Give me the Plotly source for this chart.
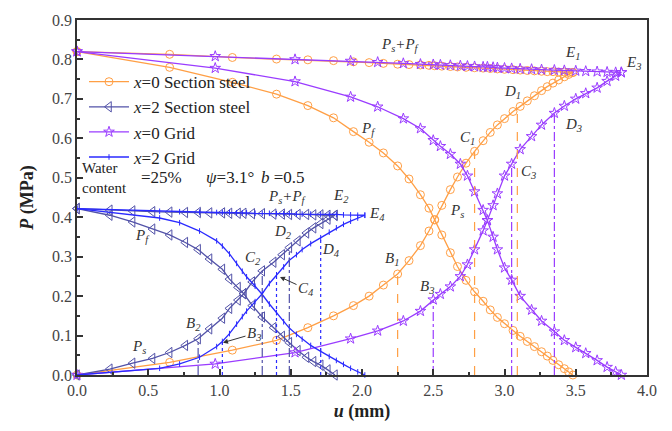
import plotly.graph_objects as go

# ---------------- data ----------------
# x=0 Section steel
u_s0 = [0, 0.65, 1.09, 1.40, 1.62, 1.80, 1.94, 2.05, 2.15, 2.25, 2.33, 2.41, 2.47, 2.51, 2.56, 2.62, 2.67,
        2.73, 2.79, 2.85, 2.90, 2.95, 3.00, 3.06, 3.11, 3.16, 3.21, 3.26, 3.30, 3.34, 3.38, 3.42, 3.45, 3.48]
ps_s0 = [0, 0.032, 0.063, 0.088, 0.120, 0.150, 0.176, 0.200, 0.228, 0.256, 0.290, 0.328, 0.365, 0.394, 0.430,
         0.470, 0.502, 0.537, 0.567, 0.594, 0.615, 0.634, 0.650, 0.668, 0.681, 0.695, 0.708, 0.721, 0.731, 0.740,
         0.748, 0.756, 0.762, 0.767]
pf_s0 = [0.82, 0.780, 0.742, 0.712, 0.683, 0.652, 0.617, 0.590, 0.563, 0.530, 0.497, 0.457, 0.423, 0.393, 0.355,
         0.310, 0.275, 0.240, 0.211, 0.187, 0.165, 0.146, 0.130, 0.113, 0.098, 0.085, 0.072, 0.059, 0.048, 0.037,
         0.026, 0.016, 0.008, 0]
sum_s0 = [0.82, 0.813, 0.805, 0.801, 0.799, 0.797, 0.794, 0.792, 0.790, 0.788, 0.787, 0.786, 0.785, 0.784, 0.783,
          0.782, 0.781, 0.780, 0.779, 0.778, 0.777, 0.776, 0.775, 0.774, 0.773, 0.772, 0.771, 0.770, 0.769, 0.769,
          0.768, 0.768, 0.767, 0.767]

# x=2 Section steel
u_s2 = [0, 0.23, 0.39, 0.53, 0.65, 0.76, 0.85, 0.93, 1.02, 1.07, 1.13, 1.17, 1.23, 1.30, 1.38, 1.44, 1.49, 1.55,
        1.61, 1.66, 1.71, 1.76, 1.81]
ps_s2 = [0, 0.015, 0.030, 0.042, 0.057, 0.075, 0.092, 0.117, 0.144, 0.169, 0.190, 0.206, 0.236, 0.264, 0.286,
         0.305, 0.323, 0.340, 0.360, 0.373, 0.384, 0.395, 0.405]
pf_s2 = [0.422, 0.405, 0.388, 0.370, 0.355, 0.336, 0.318, 0.294, 0.268, 0.243, 0.222, 0.206, 0.176, 0.147, 0.120,
         0.098, 0.082, 0.062, 0.045, 0.034, 0.025, 0.013, 0]
sum_s2 = [0.422, 0.418, 0.416, 0.414, 0.413, 0.412, 0.412, 0.411, 0.411, 0.410, 0.410, 0.410, 0.409, 0.409, 0.408,
          0.408, 0.407, 0.407, 0.407, 0.406, 0.406, 0.405, 0.405]

# x=0 Grid
u_g0 = [0, 0.97, 1.53, 1.92, 2.11, 2.29, 2.41, 2.50, 2.55, 2.62, 2.69, 2.74, 2.79, 2.85, 2.88, 2.92, 2.95, 3.00,
        3.05, 3.11, 3.19, 3.26, 3.35, 3.42, 3.50, 3.57, 3.65, 3.72, 3.78, 3.82]
ps_g0 = [0, 0.028, 0.057, 0.092, 0.112, 0.137, 0.162, 0.191, 0.205, 0.224, 0.250, 0.280, 0.318, 0.366, 0.392,
         0.430, 0.460, 0.505, 0.535, 0.572, 0.605, 0.634, 0.664, 0.682, 0.700, 0.714, 0.728, 0.745, 0.758, 0.767]
pf_g0 = [0.82, 0.778, 0.744, 0.705, 0.680, 0.650, 0.625, 0.595, 0.580, 0.560, 0.535, 0.505, 0.465, 0.418, 0.392,
         0.350, 0.318, 0.272, 0.241, 0.200, 0.165, 0.137, 0.110, 0.088, 0.070, 0.055, 0.037, 0.020, 0.008, 0]
sum_g0 = [0.82, 0.808, 0.800, 0.796, 0.793, 0.790, 0.788, 0.787, 0.786, 0.785, 0.784, 0.783, 0.782, 0.781, 0.781,
          0.780, 0.779, 0.778, 0.777, 0.776, 0.775, 0.774, 0.773, 0.772, 0.771, 0.770, 0.769, 0.768, 0.767, 0.767]

# x=2 Grid
u_g2 = [0, 0.58, 0.72, 0.86, 0.98, 1.02, 1.07, 1.12, 1.16, 1.19, 1.25, 1.30, 1.35, 1.40, 1.45, 1.49, 1.54, 1.58,
        1.64, 1.71, 1.77, 1.82, 1.87, 1.92, 1.97, 2.02]
ps_g2 = [0, 0.017, 0.028, 0.045, 0.072, 0.085, 0.105, 0.129, 0.148, 0.162, 0.186, 0.206, 0.232, 0.254, 0.274,
         0.291, 0.305, 0.318, 0.333, 0.348, 0.362, 0.373, 0.382, 0.390, 0.398, 0.405]
pf_g2 = [0.422, 0.398, 0.386, 0.365, 0.340, 0.327, 0.307, 0.283, 0.263, 0.249, 0.225, 0.204, 0.180, 0.158, 0.135,
         0.119, 0.103, 0.091, 0.075, 0.060, 0.047, 0.037, 0.027, 0.017, 0.008, 0]
sum_g2 = [0.422, 0.415, 0.414, 0.413, 0.412, 0.412, 0.412, 0.411, 0.411, 0.411, 0.410, 0.410, 0.410, 0.409, 0.409,
          0.409, 0.408, 0.408, 0.408, 0.407, 0.407, 0.407, 0.406, 0.406, 0.405, 0.405]

# characteristic points B, C, D (u, P)
pts_s0_u = [2.25, 2.79, 3.09]; pts_s0_p = [0.256, 0.567, 0.676]
pts_g0_u = [2.50, 3.05, 3.35]; pts_g0_p = [0.191, 0.535, 0.664]
pts_s2_u = [0.85, 1.30, 1.49]; pts_s2_p = [0.092, 0.264, 0.323]
pts_g2_u = [1.02, 1.40, 1.71]; pts_g2_p = [0.085, 0.254, 0.348]

legend_names = ["<i>x</i>=0 Section steel", "<i>x</i>=2 Section steel", "<i>x</i>=0 Grid", "<i>x</i>=2 Grid"]

# ---------------- styling ----------------
FONT = "'Liberation Serif', 'Times New Roman', 'DejaVu Serif', serif"
C_OR = "#ff9f45"
C_SL = "#5252a8"
C_PU = "#9a3cff"
C_BL = "#2a2aff"

W, H = 672, 431
L, R, T, B = 77, 25, 13, 56
XR = [0, 4]
YR = [0, 0.9]


def px2d(px, py):
    u = XR[0] + (px - L) / (W - L - R) * (XR[1] - XR[0])
    p = YR[1] - (py - T) / (H - T - B) * (YR[1] - YR[0])
    return u, p


fig = go.Figure()

cases = [
    (u_s0, ps_s0, pf_s0, sum_s0, C_OR, dict(symbol="circle-open", size=8), legend_names[0]),
    (u_s2, ps_s2, pf_s2, sum_s2, C_SL, dict(symbol="triangle-left-open", size=9), legend_names[1]),
    (u_g0, ps_g0, pf_g0, sum_g0, C_PU, dict(symbol="star-open", size=8), legend_names[2]),
    (u_g2, ps_g2, pf_g2, sum_g2, C_BL, dict(symbol="line-ns-open", size=4), legend_names[3]),
]

for i, (u, ps, pf, sm, col, mk, name) in enumerate(cases):
    mkd = dict(color=col, line=dict(color=col, width=1), **mk)
    for j, yv in enumerate([pf, ps, sm]):
        fig.add_trace(go.Scatter(
            x=u, y=yv, mode="lines+markers", name=name, legendgroup=name,
            showlegend=(j == 0), line=dict(color=col, width=1.3), marker=mkd,
            cliponaxis=False))

# vertical drop lines
drops = [
    (pts_s0_u, pts_s0_p, C_OR, "dash"),
    (pts_g0_u, pts_g0_p, C_PU, "dashdot"),
    (pts_s2_u, pts_s2_p, C_SL, "dashdot"),
    (pts_g2_u, pts_g2_p, C_BL, "dot"),
]
for uu, pp, col, dash in drops:
    xs, ys = [], []
    for a, b in zip(uu, pp):
        xs += [a, a, None]
        ys += [0, b, None]
    fig.add_trace(go.Scatter(x=xs, y=ys, mode="lines", showlegend=False,
                             line=dict(color=col, width=1.2, dash=dash)))

# labels
lab_font = dict(family=FONT, size=15, color="#333333")
labels = [
    (400, 38, "<i>P<sub>s</sub>+P<sub>f</sub></i>"),
    (572, 47, "<i>E<sub>1</sub></i>"),
    (633, 57, "<i>E<sub>3</sub></i>"),
    (512, 86, "<i>D<sub>1</sub></i>"),
    (573, 120, "<i>D<sub>3</sub></i>"),
    (467, 133, "<i>C<sub>1</sub></i>"),
    (528, 168, "<i>C<sub>3</sub></i>"),
    (368, 124, "<i>P<sub>f</sub></i>"),
    (457, 208, "<i>P<sub>s</sub></i>"),
    (392, 257, "<i>B<sub>1</sub></i>"),
    (427, 285, "<i>B<sub>3</sub></i>"),
    (287, 193, "<i>P<sub>s</sub>+P<sub>f</sub></i>"),
    (341, 192, "<i>E<sub>2</sub></i>"),
    (377, 211, "<i>E<sub>4</sub></i>"),
    (283, 229, "<i>D<sub>2</sub></i>"),
    (331, 248, "<i>D<sub>4</sub></i>"),
    (253, 256, "<i>C<sub>2</sub></i>"),
    (193, 323, "<i>B<sub>2</sub></i>"),
    (142, 233, "<i>P<sub>f</sub></i>"),
    (139, 346, "<i>P<sub>s</sub></i>"),
]
for px, py, t in labels:
    xx, yy = px2d(px, py)
    fig.add_annotation(x=xx, y=yy, text=t, showarrow=False, font=lab_font,
                       xanchor="center", yanchor="middle")

# arrowed labels
arrows = [
    (306, 287, 280, 275, "<i>C<sub>4</sub></i>"),
    (254, 333, 223, 342, "<i>B<sub>3</sub></i>"),
    (42, 405, 76, 377, "<i>A<sub>1(2,3,4)</sub></i>"),
]
for tx, ty, ax_, ay_, t in arrows:
    x0, y0 = px2d(ax_, ay_)
    fig.add_annotation(x=x0, y=y0, text=t, showarrow=True, arrowhead=2, arrowsize=1,
                       arrowwidth=1, arrowcolor="#333333", ax=tx - ax_, ay=ty - ay_,
                       font=lab_font)

# condition text
for px, py, t, fs in [
    (81, 174, "Water<br>content", 15),
    (140, 174, "=25%", 17),
    (205, 174, "<i>ψ</i>=3.1°", 17),
    (260, 174, "<i>b</i> =0.5", 17),
]:
    xx, yy = px2d(px, py)
    fig.add_annotation(x=xx, y=yy, text=t, showarrow=False,
                       font=dict(family=FONT, size=fs, color="#222222"),
                       xanchor="left", yanchor="middle", align="left", borderpad=0)

axis_common = dict(
    showline=True, linecolor="#333333", linewidth=1.5, mirror=True,
    ticks="inside", ticklen=6, tickwidth=1.5, tickcolor="#333333",
    showgrid=False, zeroline=False,
    tickfont=dict(family=FONT, size=16, color="#444444"),
)
fig.update_xaxes(range=XR, dtick=0.5, tickformat=".1f",
                 minor=dict(ticks="inside", ticklen=3, tickcolor="#333333", dtick=0.25),
                 title=dict(text="<b><i>u</i> (mm)</b>", font=dict(family=FONT, size=18, color="#222222"),
                            standoff=6),
                 **axis_common)
fig.update_yaxes(range=YR, dtick=0.1, tickformat=".1f",
                 minor=dict(ticks="inside", ticklen=3, tickcolor="#333333", dtick=0.05),
                 title=dict(text="<b><i>P</i> (MPa)</b>", font=dict(family=FONT, size=18, color="#222222"),
                            standoff=14),
                 **axis_common)

lx, ly = (84 - L) / (W - L - R), 1 - (58 - T) / (H - T - B)
fig.update_layout(
    width=W, height=H,
    margin=dict(l=L, r=R, t=T, b=B),
    paper_bgcolor="white", plot_bgcolor="white",
    font=dict(family=FONT),
    showlegend=True,
    legend=dict(x=lx, y=ly, xanchor="left", yanchor="top", bgcolor="rgba(0,0,0,0)",
                font=dict(family=FONT, size=17, color="#222222"), tracegroupgap=0,
                itemwidth=40),
)

fig.write_html("out.html")
